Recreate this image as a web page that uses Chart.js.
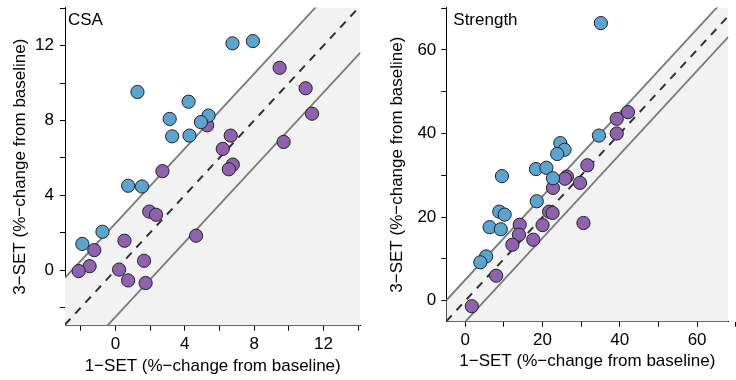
<!DOCTYPE html>
<html><head><meta charset="utf-8">
<script src="https://cdn.jsdelivr.net/npm/chart.js@4/dist/chart.umd.min.js"></script>
<style>
html,body{margin:0;padding:0;background:#fff;}
#wrap{position:relative;width:736px;height:380px;overflow:hidden;background:#fff;}
canvas{position:absolute;top:0;}
</style></head><body>
<div id="wrap">
<canvas id="c1" width="368" height="380" style="left:0"></canvas>
<canvas id="c2" width="368" height="380" style="left:368px"></canvas>
</div>
<script>
// ---- CSA panel data (% change from baseline) ----
const csaBlueOneSet   = [6.75, 7.93, 1.27, 4.22, 3.13, 5.37, 4.93, 3.27, 4.27, 0.73, 1.53, -0.75, -1.91];
const csaBlueThreeSet = [12.12, 12.24, 9.52, 9.00, 8.08, 8.26, 7.91, 7.15, 7.19, 4.51, 4.47, 2.05, 1.40];
const csaPurpleOneSet   = [9.47, 10.97, 11.34, 5.29, 6.65, 6.19, 9.70, 6.77, 6.54, 2.71, 1.95, 2.34, 4.65, 0.52, -1.22, -1.49, -2.12, 0.21, 1.65, 0.73, 1.74];
const csaPurpleThreeSet = [10.81, 9.72, 8.36, 7.74, 7.19, 6.48, 6.85, 5.64, 5.39, 5.29, 3.13, 2.96, 1.84, 1.57, 1.07, 0.21, -0.05, 0.03, 0.50, -0.55, -0.69];
const csaBand = 2.5;
const csaTicks = [-2, 0, 2, 4, 6, 8, 10, 12, 14];
const csaTickLabels = [0, 4, 8, 12];

// ---- Strength panel data ----
const strBlueOneSet   = [35.1, 34.6, 24.6, 25.7, 23.8, 18.3, 21.0, 9.5, 22.7, 18.5, 8.8, 10.2, 6.3, 9.2, 5.4, 3.9];
const strBlueThreeSet = [66.4, 39.5, 37.7, 36.1, 35.1, 31.5, 31.8, 29.8, 29.3, 23.8, 21.3, 20.6, 17.6, 17.1, 10.6, 9.2];
const strPurpleOneSet   = [42.1, 39.2, 39.2, 31.6, 29.7, 26.3, 25.8, 22.7, 21.7, 22.6, 30.6, 14.1, 20.0, 13.9, 12.2, 17.6, 8.0, 1.7];
const strPurpleThreeSet = [45.1, 43.5, 40.0, 32.4, 28.2, 29.7, 29.2, 27.0, 21.3, 21.0, 18.6, 18.2, 18.1, 15.8, 13.4, 14.6, 6.0, -1.3];
const strBand = 5;
const strTicks = [0, 10, 20, 30, 40, 50, 60, 70];
const strTickLabels = [0, 20, 40, 60];

const xTitle = '1\u2212SET (%\u2212change from baseline)';
const yTitle = '3\u2212SET (%\u2212change from baseline)';

Chart.defaults.color = '#000';
Chart.defaults.font.family = '"Liberation Sans", Arial, Helvetica, sans-serif';

const BLUE = '#5BA4D0', PURPLE = '#8E62AE', GRAYFILL = '#F2F2F2', BANDLINE = '#7A7A7A';
const FS = 17;

function pts(xs, ys) { return xs.map((x, i) => ({x: x, y: ys[i]})); }
function linePts(xmin, xmax, off) { return [{x: xmin, y: xmin + off}, {x: xmax, y: xmax + off}]; }

function makeChart(id, o) {
  const labelPlugin = {
    id: 'panelLabel',
    afterDatasetsDraw(chart) {
      const ctx = chart.ctx;
      ctx.save();
      ctx.font = FS + 'px "Liberation Sans", Arial, sans-serif';
      ctx.fillStyle = '#000';
      ctx.textBaseline = 'alphabetic';
      ctx.fillText(o.label, chart.chartArea.left + o.labelDx, 25);
      ctx.restore();
    }
  };
  const tickFn = (labels) => (v) => labels.includes(v) ? String(v) : '';
  const scaleCommon = {
    type: 'linear',
    grid: {display: true, drawOnChartArea: false, drawTicks: true, tickLength: 5, color: '#000', lineWidth: 1},
    border: {display: true, color: '#000', width: 1},
  };
  new Chart(document.getElementById(id), {
    type: 'scatter',
    data: {
      datasets: [
        {type: 'line', data: linePts(o.min.x, o.max.x, o.band), borderColor: BANDLINE, borderWidth: 1.8,
         backgroundColor: GRAYFILL, fill: 'start', pointRadius: 0, order: 5},
        {type: 'line', data: linePts(o.min.x, o.max.x, -o.band), borderColor: BANDLINE, borderWidth: 1.8,
         fill: false, pointRadius: 0, order: 4},
        {type: 'line', data: linePts(o.min.x, o.max.x, 0), borderColor: '#333', borderWidth: 2,
         borderDash: [8, 7], fill: false, pointRadius: 0, order: 3},
        {data: pts(o.px, o.py), backgroundColor: PURPLE, borderColor: '#222', borderWidth: 1,
         pointRadius: 6.6, order: 2},
        {data: pts(o.bx, o.by), backgroundColor: BLUE, borderColor: '#222', borderWidth: 1,
         pointRadius: 6.6, order: 1},
      ]
    },
    options: {
      responsive: false, animation: false, devicePixelRatio: 1,
      layout: {padding: {top: 5, left: 0, right: 0, bottom: 0}},
      plugins: {legend: {display: false}, tooltip: {enabled: false}},
      scales: {
        x: Object.assign({}, scaleCommon, {
          min: o.min.x, max: o.max.x,
          afterBuildTicks(s) { s.ticks = o.ticks.map(v => ({value: v})); },
          ticks: {callback: tickFn(o.tickLabels), font: {size: FS}, color: '#000', padding: 3, maxRotation: 0, autoSkip: false},
          title: {display: true, text: xTitle, font: {size: FS}, color: '#000', padding: {top: 0, bottom: o.xTitlePad}},
          afterFit(s) { s.height = o.xH; s.paddingLeft = 0; s.paddingRight = 0; }
        }),
        y: Object.assign({}, scaleCommon, {
          min: o.min.y, max: o.max.y,
          afterBuildTicks(s) { s.ticks = o.ticks.filter(v => v <= o.max.y).map(v => ({value: v})); },
          ticks: {callback: tickFn(o.tickLabels), font: {size: FS}, color: '#000', padding: o.yTickPad, autoSkip: false},
          title: {display: true, text: yTitle, font: {size: FS}, color: '#000', padding: {top: o.yTitlePad, bottom: 0}},
          afterFit(s) { s.width = o.yW; s.paddingTop = 0; s.paddingBottom = 0; }
        })
      }
    },
    plugins: [labelPlugin]
  });
}

makeChart('c1', {
  label: 'CSA', labelDx: 3,
  min: {x: -2.91, y: -2.97}, max: {x: 14.13, y: 14.03},
  band: csaBand, ticks: csaTicks, tickLabels: csaTickLabels,
  bx: csaBlueOneSet, by: csaBlueThreeSet, px: csaPurpleOneSet, py: csaPurpleThreeSet,
  yW: 65, xH: 54.3, xTitlePad: 3, yTitlePad: 10, yTickPad: 6
});
makeChart('c2', {
  label: 'Strength', labelDx: 7,
  min: {x: -4.9, y: -5}, max: {x: 68.1, y: 70.1},
  band: strBand, ticks: strTicks, tickLabels: strTickLabels,
  bx: strBlueOneSet, by: strBlueThreeSet, px: strPurpleOneSet, py: strPurpleThreeSet,
  yW: 78.3, xH: 58.3, xTitlePad: 8, yTitlePad: 19, yTickPad: 5
});
</script>
</body></html>
